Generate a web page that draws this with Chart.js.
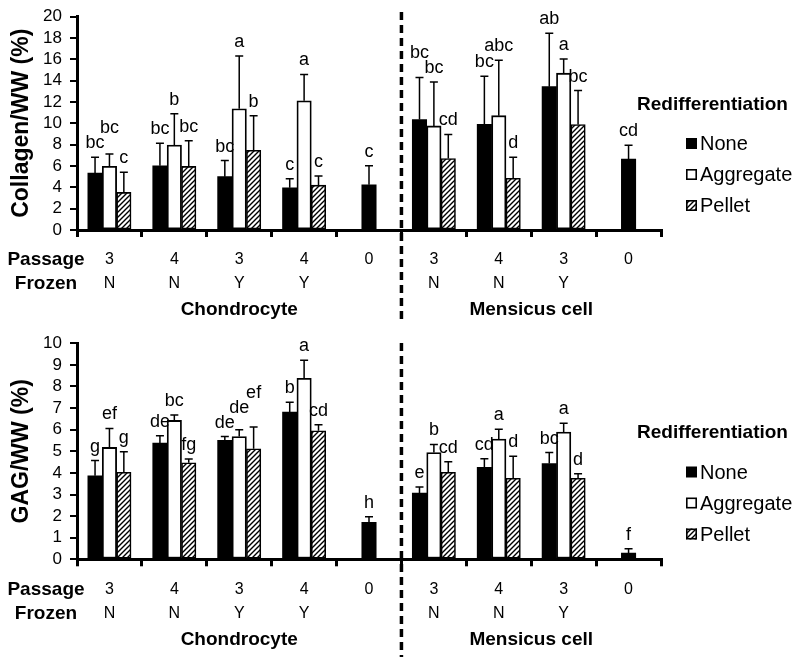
<!DOCTYPE html>
<html><head><meta charset="utf-8">
<script src="https://cdn.jsdelivr.net/npm/chart.js@4.4.1/dist/chart.umd.min.js"></script>
<style>
html,body{margin:0;padding:0;background:#fff;}
#wrap{width:800px;height:657px;position:relative;overflow:hidden;}
.box{position:absolute;left:0;width:800px;}
</style></head><body>
<div id="wrap">
<div class="box" style="top:0;height:320px"><canvas id="c1"></canvas></div>
<div class="box" style="top:320px;height:337px"><canvas id="c2"></canvas></div>
</div>
<script>
// ---------- data ----------
const passage = ["3","4","3","4","0","3","4","3","0"];
const frozen  = ["N","N","Y","Y","","N","N","Y",""];
const cellGroups = ["Chondrocyte", "Mensicus cell"];
const seriesNames = ["None", "Aggregate", "Pellet"];
const legendTitle = "Redifferentiation";

const collagenNone      = [5.34, 6.02, 5.00, 3.95, 4.23, 10.34, 9.90, 13.43, 6.64];
const collagenNoneErr   = [1.48, 2.10, 1.51, 0.86, 1.79, 3.95, 4.51, 5.00, 1.29];
const collagenAgg       = [5.96, 7.96, 11.36, 12.10, null, 9.75, 10.71, 14.69, null];
const collagenAggErr    = [1.17, 2.94, 4.94, 2.47, null, 4.11, 5.19, 1.33, null];
const collagenPellet    = [3.52, 5.96, 7.47, 4.20, null, 6.70, 4.85, 9.88, null];
const collagenPelletErr = [1.88, 2.40, 3.24, 0.86, null, 2.25, 1.97, 3.18, null];
const collagenNoneLetters   = ["bc","bc","bc","c","c","bc","bc","ab","cd"];
const collagenAggLetters    = ["bc","b","a","a",null,"bc","abc","a",null];
const collagenPelletLetters = ["c","bc","b","c",null,"cd","d","bc",null];

const gagNone      = [3.87, 5.38, 5.51, 6.82, 1.71, 3.07, 4.26, 4.43, 0.29];
const gagNoneErr   = [0.70, 0.34, 0.17, 0.45, 0.26, 0.28, 0.40, 0.51, 0.20];
const gagAgg       = [5.18, 6.43, 5.68, 8.38, null, 4.94, 5.57, 5.89, null];
const gagAggErr    = [0.88, 0.25, 0.32, 0.83, null, 0.38, 0.45, 0.41, null];
const gagPellet    = [4.03, 4.47, 5.12, 5.95, null, 4.03, 3.75, 3.75, null];
const gagPelletErr = [0.95, 0.17, 1.01, 0.28, null, 0.49, 1.02, 0.21, null];
const gagNoneLetters   = ["g","de","de","b","h","e","cd","bc","f"];
const gagAggLetters    = ["ef","bc","de","a",null,"b","a","a",null];
const gagPelletLetters = ["g","fg","ef","cd",null,"cd","d","d",null];

// ---------- styling ----------
const FONT = "'Liberation Sans', Arial, Helvetica, sans-serif";
Chart.defaults.font.family = FONT;
Chart.defaults.color = '#000';

function makeHatch() {
  const c = document.createElement('canvas'); c.width = 5; c.height = 5;
  const g = c.getContext('2d');
  g.fillStyle = '#fff'; g.fillRect(0, 0, 5, 5);
  g.strokeStyle = '#000'; g.lineWidth = 1.4;
  g.beginPath();
  g.moveTo(-1, 6); g.lineTo(6, -1);
  g.moveTo(-1, 1); g.lineTo(1, -1);
  g.moveTo(4, 6); g.lineTo(6, 4);
  g.stroke();
  return document.createElement('canvas').getContext('2d').createPattern(c, 'repeat');
}
const hatch = makeHatch();
const fills = ['#000', '#fff', hatch];
const borderWidths = [0, 1.8, 1.6];

const annotPlugin = {
  id: 'annot',
  afterDatasetsDraw(chart) {
    const ctx = chart.ctx, ys = chart.scales.y;
    ctx.save();
    ctx.strokeStyle = '#000'; ctx.lineWidth = 1.5;
    const labels = [];
    chart.data.datasets.forEach((ds, d) => {
      const meta = chart.getDatasetMeta(d);
      meta.data.forEach((el, i) => {
        const v = ds.data[i]; if (v == null) return;
        const top = ys.getPixelForValue(v + ds.err[i]);
        ctx.beginPath();
        ctx.moveTo(el.x, el.y); ctx.lineTo(el.x, top);
        ctx.moveTo(el.x - 4, top); ctx.lineTo(el.x + 4, top);
        ctx.stroke();
        if (ds.letters[i]) labels.push({ i, x: el.x, top, text: ds.letters[i] });
      });
    });
    ctx.font = '18px ' + FONT; ctx.fillStyle = '#000';
    ctx.textAlign = 'center'; ctx.textBaseline = 'alphabetic';
    const H = 13, gap = 2;
    const placed = [];
    labels.sort((a, b) => b.top - a.top);
    labels.forEach(l => {
      l.w = ctx.measureText(l.text).width;
      let base = l.top - 9, moved = true;
      while (moved) {
        moved = false;
        for (const p of placed) {
          if (p.i !== l.i) continue;
          if (Math.abs(p.x - l.x) < (p.w + l.w) / 2 &&
              base > p.base - H - gap && base - H - gap < p.base) {
            base = p.base - H - gap; moved = true;
          }
        }
      }
      l.base = base; placed.push(l);
      ctx.fillText(l.text, l.x, base);
    });
    ctx.restore();
  },
  afterDraw(chart) {
    const ctx = chart.ctx, xs = chart.scales.x, o = chart.options.plugins.annot;
    ctx.save();
    // dashed separator
    const xb = (xs.getPixelForTick(4) + xs.getPixelForTick(5)) / 2;
    ctx.strokeStyle = '#000'; ctx.lineWidth = 3.5; ctx.setLineDash([8, 5]);
    ctx.beginPath(); ctx.moveTo(xb, o.dashTop); ctx.lineTo(xb, chart.height); ctx.stroke();
    ctx.setLineDash([]);
    // row labels
    ctx.fillStyle = '#000';
    ctx.font = 'bold 19px ' + FONT; ctx.textAlign = 'center'; ctx.textBaseline = 'middle';
    ctx.fillText('Passage', 46, xs.top + 30);
    ctx.fillText('Frozen', 46, xs.top + 54);
    // group labels
    const g1 = (xs.getPixelForTick(0) + xs.getPixelForTick(4)) / 2;
    const g2 = (xs.getPixelForTick(5) + xs.getPixelForTick(8)) / 2;
    ctx.fillText(cellGroups[0], g1, xs.top + 80);
    ctx.fillText(cellGroups[1], g2, xs.top + 80);
    // legend
    const ly = chart.chartArea.top + o.legendOffset;
    ctx.textAlign = 'left';
    ctx.fillText(legendTitle, 637, ly);
    ctx.font = '20px ' + FONT;
    chart.data.datasets.forEach((ds, d) => {
      const cy = ly + 39 + d * 31;
      ctx.fillStyle = fills[d];
      ctx.fillRect(686, cy - 5.5, 11, 11);
      if (d > 0) { ctx.strokeStyle = '#000'; ctx.lineWidth = 1.6; ctx.strokeRect(686.8, cy - 4.7, 9.4, 9.4); }
      ctx.fillStyle = '#000';
      ctx.fillText(ds.label, 700, cy + 1);
    });
    ctx.restore();
  }
};

function makeChart(id, c) {
  const series = [[c.none, c.noneErr, c.noneL], [c.agg, c.aggErr, c.aggL], [c.pellet, c.pelletErr, c.pelletL]];
  return new Chart(document.getElementById(id), {
    type: 'bar',
    data: {
      labels: passage.map((p, i) => [p, frozen[i]]),
      datasets: series.map((s, d) => ({
        label: seriesNames[d], data: s[0], err: s[1], letters: s[2],
        backgroundColor: fills[d], borderColor: '#000', borderWidth: borderWidths[d]
      }))
    },
    plugins: [annotPlugin],
    options: {
      responsive: true, maintainAspectRatio: false, animation: false,
      layout: { padding: { left: 0, right: 139, top: c.padTop, bottom: 0 } },
      datasets: { bar: { barThickness: 14.4, skipNull: true, borderSkipped: false } },
      plugins: {
        legend: { display: false }, tooltip: { enabled: false },
        annot: { dashTop: c.dashTop, legendOffset: c.legendOffset }
      },
      scales: {
        x: {
          offset: true,
          grid: { display: true, drawOnChartArea: false, drawTicks: true, tickLength: 7, color: '#000', lineWidth: 3, offset: true },
          border: { display: true, color: '#000', width: 3 },
          ticks: { font: { size: 16, lineHeight: 1.5 }, color: '#000', padding: 11, maxRotation: 0, autoSkip: false },
          afterFit: s => { s.height = c.xHeight; }
        },
        y: {
          min: 0, max: c.max,
          ticks: { stepSize: c.step, autoSkip: false, font: { size: 17, lineHeight: 1 }, color: '#000', padding: 8 },
          grid: { display: true, drawOnChartArea: false, drawTicks: true, tickLength: 7, color: '#000', lineWidth: 2 },
          border: { display: true, color: '#000', width: 3 },
          title: { display: true, text: c.title, font: { size: 23, weight: 'bold' }, color: '#000', padding: { top: 8, bottom: 0 } },
          afterFit: s => { s.width = 77; }
        }
      }
    }
  });
}

makeChart('c1', {
  title: 'Collagen/WW (%)', max: 20, step: 2, padTop: 15, xHeight: 90, dashTop: 12, legendOffset: 88,
  none: collagenNone, noneErr: collagenNoneErr, noneL: collagenNoneLetters,
  agg: collagenAgg, aggErr: collagenAggErr, aggL: collagenAggLetters,
  pellet: collagenPellet, pelletErr: collagenPelletErr, pelletL: collagenPelletLetters
});
makeChart('c2', {
  title: 'GAG/WW (%)', max: 10, step: 1, padTop: 23.3, xHeight: 97.7, dashTop: 23, legendOffset: 89.7,
  none: gagNone, noneErr: gagNoneErr, noneL: gagNoneLetters,
  agg: gagAgg, aggErr: gagAggErr, aggL: gagAggLetters,
  pellet: gagPellet, pelletErr: gagPelletErr, pelletL: gagPelletLetters
});
</script>
</body></html>
